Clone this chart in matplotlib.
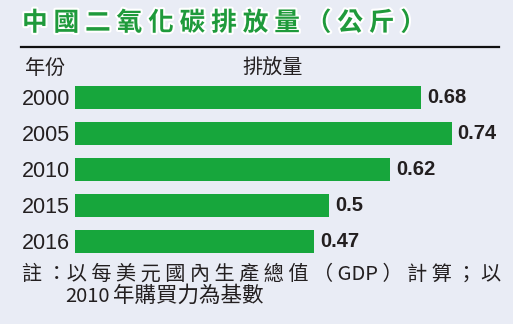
import matplotlib
matplotlib.use("Agg")
from matplotlib import pyplot as plt
import matplotlib.patheffects as pe

years = ["2000", "2005", "2010", "2015", "2016"]
values = [0.68, 0.74, 0.62, 0.5, 0.47]
value_labels = ["0.68", "0.74", "0.62", "0.5", "0.47"]

title = "中 國 二 氧 化 碳 排 放 量 （ 公 斤 ）"
col_year = "年份"
col_value = "排放量"
note1 = "註 ：以 每 美 元 國 內 生 產 總 值 （ GDP ） 計 算 ； 以"
note2_year = "2010"
note2_rest = "年購買力為基數"

W, H = 513, 324
bg = "#e9ecf5"
green = "#17a63c"
title_green = "#1f9a3b"
ink = "#231f20"
cjk = ["Noto Sans CJK TC", "DejaVu Sans"]
latin = ["Liberation Sans", "DejaVu Sans"]

fig = plt.figure(figsize=(W / 100, H / 100), dpi=100, facecolor=bg)

def fx(px):
	return px / W

def fy(py):
	return 1 - py / H

# bars area: x from 75px, 0.8 units wide; rows 36px apart
ax = fig.add_axes([fx(75), fy(259.2), 0.8 * 508.8 / W, 180 / H])
ax.set_facecolor(bg)
pos = list(range(len(years)))
ax.barh(pos, values, height=0.64, color=green)
ax.set_xlim(0, 0.8)
ax.set_ylim(len(years) - 0.5, -0.5)
ax.set_xticks([])
ax.set_yticks(pos)
ax.set_yticklabels(years, family=latin, fontsize=15.5, color=ink)
ax.tick_params(axis="y", length=0, pad=3.5)
for s in ax.spines.values():
	s.set_visible(False)

for p, v, lab in zip(pos, values, value_labels):
	ax.annotate(lab, (v, p), xytext=(4.3, 0), textcoords="offset points",
		ha="left", va="center", fontsize=14.5, fontweight="bold",
		family=latin, color=ink)

t = fig.text(fx(22), fy(23), title, family=cjk, fontsize=18.5, fontweight="bold",
	color=title_green, ha="left", va="center")
t.set_path_effects([pe.Stroke(linewidth=3, foreground="white"), pe.Normal()])

fig.add_artist(plt.Line2D([fx(21), fx(499)], [fy(46.7), fy(46.7)], color="#111111", lw=1.6))

fig.text(fx(25), fy(68), col_year, family=cjk, fontsize=14.5, color=ink, ha="left", va="center")
fig.text(fx(242), fy(68), col_value, family=cjk, fontsize=14.5, color=ink, ha="left", va="center")

fig.text(fx(22), fy(274), note1, family=cjk, fontsize=14.5, color=ink, ha="left", va="center")
fig.text(fx(65), fy(296), note2_year, family=cjk, fontsize=14.5, color=ink, ha="left", va="center")
fig.text(fx(113), fy(296), note2_rest, family=cjk, fontsize=15.5, color=ink, ha="left", va="center")

fig.savefig("out.png", dpi=100, facecolor=bg)
